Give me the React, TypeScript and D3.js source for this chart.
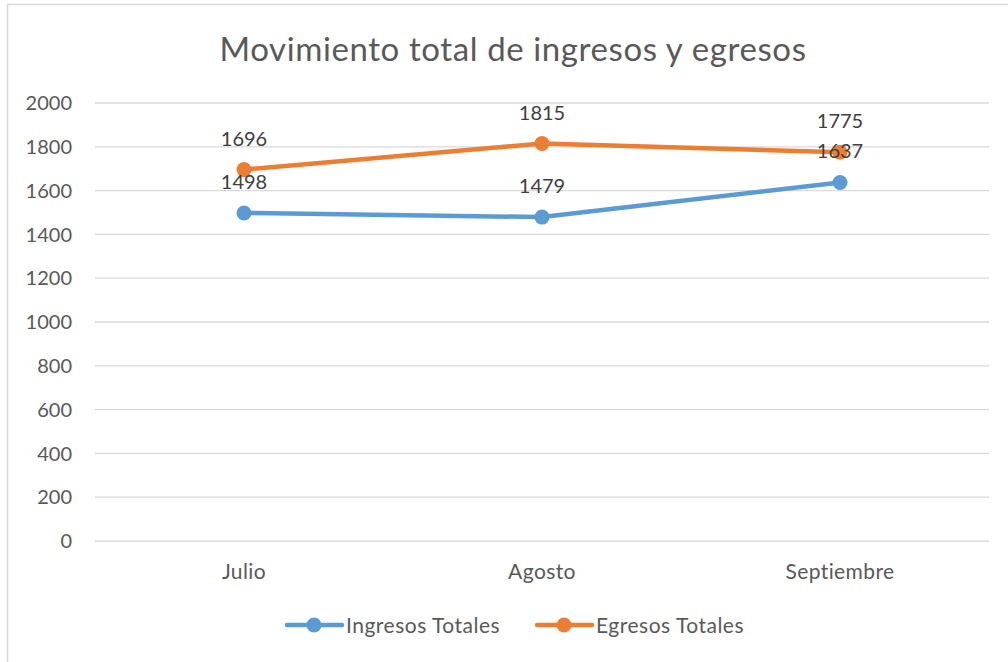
import React from "react";
import * as d3 from "d3";

const categories = ["Julio", "Agosto", "Septiembre"];
const ingresos = [1498, 1479, 1637];
const egresos = [1696, 1815, 1775];
const yTicks = [0, 200, 400, 600, 800, 1000, 1200, 1400, 1600, 1800, 2000];
const seriesNames = ["Ingresos Totales", "Egresos Totales"];
const colors = ["#5B9BD5", "#ED7D31"];

const W = 1008, H = 662;
const font = "Lato, Calibri, sans-serif";

export default function App() {
  const x = d3.scaleBand().domain(categories).range([95, 989]);
  const y = d3.scaleLinear().domain([0, 2000]).range([541, 103]);
  const cx = (c: string) => (x(c) as number) + x.bandwidth() / 2;
  const line = d3.line<number>().x((_, i) => cx(categories[i])).y((v) => y(v));
  const series = [ingresos, egresos];
  const legendX = [287, 537];
  return (
    <svg width={W} height={H} style={{ position: "absolute", left: 0, top: 0, background: "#fff" }} fontFamily={font}>
      <rect x={7.5} y={4.5} width={1100} height={700} fill="#fff" stroke="#D9D9D9" strokeWidth={1.5} />
      <text x={513} y={61} textAnchor="middle" fontSize={33} letterSpacing={0.6} fill="#595959">Movimiento total de ingresos y egresos</text>
      {yTicks.map((t) => (
        <g key={t}>
          <line x1={95} x2={989} y1={y(t)} y2={y(t)} stroke="#D9D9D9" strokeWidth={1.3} />
          <text x={72} y={y(t)} dy="0.36em" textAnchor="end" fontSize={20} fill="#595959">{t}</text>
        </g>
      ))}
      {categories.map((c) => (
        <text key={c} x={cx(c)} y={579} textAnchor="middle" fontSize={21} letterSpacing={0.4} fill="#595959">{c}</text>
      ))}
      {series.map((s, k) => (
        <g key={k}>
          <path d={line(s) as string} fill="none" stroke={colors[k]} strokeWidth={4.5} strokeLinecap="round" strokeLinejoin="round" />
          {s.map((v, i) => (
            <circle key={i} cx={cx(categories[i])} cy={y(v)} r={7.5} fill={colors[k]} />
          ))}
        </g>
      ))}
      {series.map((s, k) =>
        s.map((v, i) => (
          <text key={`${k}-${i}`} x={cx(categories[i])} y={y(v) - 24} textAnchor="middle" fontSize={20} fill="#404040">{v}</text>
        ))
      )}
      {seriesNames.map((n, k) => (
        <g key={n}>
          <line x1={legendX[k]} x2={legendX[k] + 55} y1={625} y2={625} stroke={colors[k]} strokeWidth={4.5} strokeLinecap="round" />
          <circle cx={legendX[k] + 27} cy={625} r={7.5} fill={colors[k]} />
          <text x={legendX[k] + 59} y={625} dy="0.36em" fontSize={21} letterSpacing={0.5} fill="#595959">{n}</text>
        </g>
      ))}
    </svg>
  );
}
